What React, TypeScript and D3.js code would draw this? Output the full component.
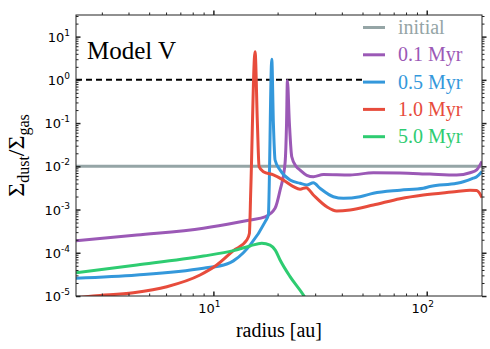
import React, { useEffect, useRef } from "react";
import * as d3 from "d3";

// radius [au] and dust-to-gas ratio
const radius_range = [2.27, 181.6];
const ratio_range = [1e-5, Math.pow(10, 1.5)];

const initial_r = [2.27, 181.6];
const initial_v = [1e-2, 1e-2];

const myr01_r = [2.27, 4.38, 8.98, 12.87, 14.86, 17.47, 19.46, 20.54, 21.68, 22.03, 22.23, 22.71, 23.3, 24.41, 25.49, 27.4, 29.42, 32.77, 43.72, 56.2, 75.0, 103.6, 138.2, 159.6, 171.5, 181.6];
const myr01_v = [1.9e-4, 2.57e-4, 3.68e-4, 5.0e-4, 5.75e-4, 6.8e-4, 1.07e-3, 2.8e-3, 1.2e-2, 0.1, 0.95, 0.1, 1.66e-2, 1.0e-2, 8.2e-3, 6.2e-3, 5.75e-3, 6.45e-3, 6.3e-3, 7.1e-3, 7.0e-3, 6.6e-3, 6.3e-3, 7.1e-3, 8.3e-3, 1.3e-2];

const myr05_r = [2.27, 4.38, 8.98, 11.56, 12.41, 13.82, 14.86, 17.47, 18.1, 18.78, 19.11, 19.46, 20.54, 22.88, 25.49, 27.4, 29.42, 31.62, 36.5, 40.67, 48.7, 56.2, 75.0, 96.4, 103.6, 138.2, 148.5, 165.3, 171.5, 181.6];
const myr05_v = [2.57e-5, 3.06e-5, 4.38e-5, 5.5e-5, 6.5e-5, 1.0e-4, 1.5e-4, 5.2e-4, 7.5e-4, 3.0, 0.099, 0.014, 8.2e-3, 4.8e-3, 4.05e-3, 3.7e-3, 4.17e-3, 3.1e-3, 1.98e-3, 1.82e-3, 1.98e-3, 2.38e-3, 2.8e-3, 3.1e-3, 3.4e-3, 4.05e-3, 4.4e-3, 5.3e-3, 5.75e-3, 7.6e-3];

const myr10_r = [2.27, 2.73, 4.22, 6.05, 8.66, 10.37, 12.41, 14.34, 14.75, 14.97, 15.68, 16.08, 16.38, 17.15, 19.11, 21.28, 23.71, 25.49, 27.2, 29.42, 34.0, 37.87, 43.72, 56.2, 75.0, 96.4, 138.2, 159.6, 171.5, 181.6];
const myr10_v = [9.1e-6, 1.0e-5, 1.19e-5, 1.64e-5, 3.06e-5, 5.2e-5, 1.12e-4, 1.97e-4, 2.8e-4, 2.8e-3, 4.48, 0.099, 9.8e-3, 7.5e-3, 6.3e-3, 4.8e-3, 3.4e-3, 2.95e-3, 3.2e-3, 2.17e-3, 1.16e-3, 9.3e-4, 9.8e-4, 1.27e-3, 1.78e-3, 2.17e-3, 2.6e-3, 2.8e-3, 2.75e-3, 1.9e-3];

const myr50_r = [2.27, 4.38, 8.98, 12.41, 14.86, 16.86, 18.44, 19.5, 20.54, 22.88, 26.41, 28.39];
const myr50_v = [3.47e-5, 5.2e-5, 8.4e-5, 1.12e-4, 1.44e-4, 1.66e-4, 1.5e-4, 1.15e-4, 6.8e-5, 2.8e-5, 1.05e-5, 5.6e-6];

const unity_r = [2.27, 50];
const unity_v = [1, 1];

const series_names = ["initial", "0.1 Myr", "0.5 Myr", "1.0 Myr", "5.0 Myr"];
const series_colors = ["#95a5a6", "#9b59b6", "#3498db", "#e74c3c", "#2ecc71"];
const series_r = [initial_r, myr01_r, myr05_r, myr10_r, myr50_r];
const series_v = [initial_v, myr01_v, myr05_v, myr10_v, myr50_v];

const x_major = [10, 100];
const x_major_exp = ["1", "2"];
const y_major = [1e-5, 1e-4, 1e-3, 1e-2, 1e-1, 1e0, 1e1];
const y_major_exp = ["-5", "-4", "-3", "-2", "-1", "0", "1"];

const serif = "'Liberation Serif', 'Times New Roman', serif";
const sans = "'DejaVu Sans', sans-serif";

export default function App() {
  const ref = useRef<SVGSVGElement>(null);

  useEffect(() => {
    const width = 490, height = 349,
      margin = { top: 15, right: 8, bottom: 53, left: 76 },
      inner_width = width - margin.left - margin.right,
      inner_height = height - margin.top - margin.bottom;

    const svg = d3.select(ref.current).attr("width", width).attr("height", height);
    svg.selectAll("*").remove();

    const x = d3.scaleLog().domain(radius_range).range([0, inner_width]);
    const y = d3.scaleLog().domain(ratio_range).range([inner_height, 0]);

    svg.append("defs").append("clipPath").attr("id", "plot-clip")
      .append("rect").attr("width", inner_width).attr("height", inner_height);

    const g = svg.append("g").attr("transform", `translate(${margin.left},${margin.top})`);

    const line = d3.line<[number, number]>().x(d => x(d[0])).y(d => y(d[1])).curve(d3.curveMonotoneX);
    const lines = g.append("g").attr("clip-path", "url(#plot-clip)");

    lines.append("path").datum(d3.zip(unity_r, unity_v) as [number, number][])
      .attr("d", line).attr("fill", "none").attr("stroke", "#000")
      .attr("stroke-width", 2).attr("stroke-dasharray", "6,4");

    lines.selectAll(".series").data(series_names).join("path").attr("class", "series")
      .attr("d", (_, i) => line(d3.zip(series_r[i], series_v[i]) as [number, number][]))
      .attr("fill", "none").attr("stroke", (_, i) => series_colors[i])
      .attr("stroke-width", 3).attr("stroke-linejoin", "round");

    // inward ticks on all four sides
    const x_minor = x.ticks().filter(t => !x_major.includes(t));
    const y_minor = y.ticks().filter(t => !y_major.some(m => Math.abs(m - t) / t < 1e-6));
    const axis_color = "#222";

    const styleAxis = (sel: any) => {
      sel.select(".domain").remove();
      sel.selectAll("line").attr("stroke", axis_color);
      sel.selectAll("text").remove();
    };

    [[d3.axisBottom, inner_height], [d3.axisTop, 0]].forEach(([axis, off]: any) => {
      g.append("g").attr("transform", `translate(0,${off})`)
        .call(axis(x).tickValues(x_minor).tickSize(off ? -2.5 : 2.5)).call(styleAxis);
      g.append("g").attr("transform", `translate(0,${off})`)
        .call(axis(x).tickValues(x_major).tickSize(off ? -4.5 : 4.5)).call(styleAxis)
        .selectAll("line").attr("stroke-width", 1.5);
    });
    [[d3.axisLeft, 0], [d3.axisRight, inner_width]].forEach(([axis, off]: any) => {
      g.append("g").attr("transform", `translate(${off},0)`)
        .call(axis(y).tickValues(y_minor).tickSize(off ? 2.5 : -2.5)).call(styleAxis);
      g.append("g").attr("transform", `translate(${off},0)`)
        .call(axis(y).tickValues(y_major).tickSize(off ? 4.5 : -4.5)).call(styleAxis)
        .selectAll("line").attr("stroke-width", 1.5);
    });

    g.append("rect").attr("width", inner_width).attr("height", inner_height)
      .attr("fill", "none").attr("stroke", axis_color).attr("stroke-width", 1);

    // tick labels 10^n
    const xl = g.selectAll(".xlab").data(x_major).join("text").attr("class", "xlab")
      .attr("x", d => x(d) - 4).attr("y", inner_height + 17)
      .attr("text-anchor", "middle").attr("font-family", sans).attr("font-size", 13);
    xl.append("tspan").text("10");
    xl.append("tspan").attr("dy", -6).attr("font-size", 9).text((_, i) => x_major_exp[i]);

    const yl = g.selectAll(".ylab").data(y_major).join("text").attr("class", "ylab")
      .attr("x", -6).attr("y", d => y(d) + 5)
      .attr("text-anchor", "end").attr("font-family", sans).attr("font-size", 13);
    yl.append("tspan").text("10");
    yl.append("tspan").attr("dy", -6).attr("font-size", 9).text((_, i) => y_major_exp[i]);

    g.append("text").attr("x", 11).attr("y", 44).attr("font-family", serif)
      .attr("font-size", 25).attr("fill", "#000").text("Model V");

    // legend
    const legend = g.selectAll(".legend").data(series_names).join("g").attr("class", "legend")
      .attr("transform", (_, i) => `translate(${inner_width - 119},${12.5 + i * 27.3})`);
    legend.append("line").attr("x1", 0).attr("x2", 22)
      .attr("stroke", (_, i) => series_colors[i]).attr("stroke-width", 3);
    legend.append("text").attr("x", 35).attr("y", 6.5)
      .attr("font-family", serif).attr("font-size", 20)
      .attr("fill", (_, i) => series_colors[i]).text(d => d);

    svg.append("text").attr("x", margin.left + inner_width / 2).attr("y", 337)
      .attr("text-anchor", "middle").attr("font-family", serif).attr("font-size", 20)
      .text("radius [au]");

    const yt = svg.append("text").attr("transform", `translate(24,${margin.top + inner_height / 2}) rotate(-90)`)
      .attr("text-anchor", "middle").attr("font-family", serif).attr("font-size", 24);
    yt.append("tspan").text("Σ");
    yt.append("tspan").attr("dy", 5).attr("font-size", 16).text("dust");
    yt.append("tspan").attr("dy", -5).text("/Σ");
    yt.append("tspan").attr("dy", 5).attr("font-size", 16).text("gas");
  }, []);

  return <svg ref={ref} style={{ position: "absolute", left: 0, top: 0 }}></svg>;
}
